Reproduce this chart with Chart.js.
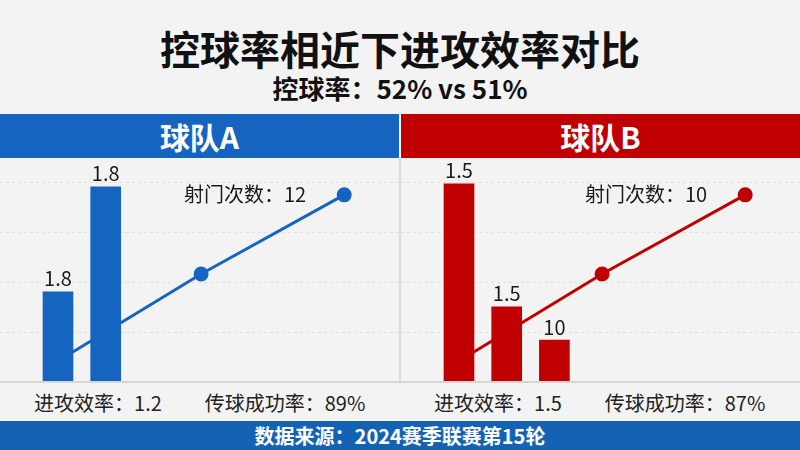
<!DOCTYPE html>
<html>
<head>
<meta charset="utf-8">
<script src="https://cdn.jsdelivr.net/npm/chart.js@4"></script>
<style>
  html, body { margin: 0; padding: 0; }
  body {
    width: 800px; height: 450px; position: relative; overflow: hidden;
    background: #f3f3f3;
    font-family: "Noto Sans CJK SC", "Noto Sans", sans-serif;
    color: #111;
  }
  .title {
    position: absolute; left: 0; width: 800px; top: 27px;
    text-align: center; font-size: 40px; line-height: 42px; font-weight: 700;
  }
  .subtitle {
    position: absolute; left: 0; width: 800px; top: 73px;
    text-align: center; font-size: 26px; line-height: 30px; font-weight: 700;
  }
  .head {
    position: absolute; top: 114px; height: 44px; width: 399px;
    color: #fff; text-align: center; font-size: 30px; line-height: 44px; font-weight: 700;
  }
  .plot { position: absolute; top: 158px; width: 399px; height: 224px; }
  .base { position: absolute; top: 381px; left: 0; width: 800px; height: 2px; background: #d6d6d6; }
  .divider { position: absolute; left: 399px; width: 2px; top: 158px; height: 224px; background: #dadada; }
  .stat {
    position: absolute; top: 390px; font-size: 20px; line-height: 26px;
    transform: translateX(-50%); white-space: nowrap; color: #222;
  }
  .foot {
    position: absolute; left: 0; top: 421px; width: 800px; height: 29px;
    background: #1462b4; color: #fff; text-align: center;
    font-size: 20px; line-height: 29px; font-weight: 700;
  }
</style>
</head>
<body>
<div class="title">控球率相近下进攻效率对比</div>
<div class="subtitle">控球率：52% vs 51%</div>

<div class="head" style="left:0;background:#1565c0">球队A</div>
<div class="head" style="left:401px;background:#c00000">球队B</div>

<div class="plot" style="left:0"><canvas id="chartA"></canvas></div>
<div class="plot" style="left:401px"><canvas id="chartB"></canvas></div>
<div class="base"></div>
<div class="divider"></div>

<div class="stat" style="left:98px">进攻效率：1.2</div>
<div class="stat" style="left:285px">传球成功率：89%</div>
<div class="stat" style="left:498px">进攻效率：1.5</div>
<div class="stat" style="left:685px">传球成功率：87%</div>

<div class="foot">数据来源：2024赛季联赛第15轮</div>

<script>
// 球队A
const barXA = [1, 2];
const barValuesA = [1.81, 3.92];
const barLabelsA = ["1.8", "1.8"];
const lineXA = [1, 4, 7];
const lineValuesA = [0.42, 2.17, 3.76];
const shotLabelA = "射门次数：12";

// 球队B
const barXB = [1, 2, 3];
const barValuesB = [3.98, 1.51, 0.84];
const barLabelsB = ["1.5", "1.5", "10"];
const lineXB = [1, 4, 7];
const lineValuesB = [0.42, 2.17, 3.76];
const shotLabelB = "射门次数：10";

const yTicks = [0, 1, 2, 3, 4];

/** 막대 위 숫자와 선 끝 라벨을 직접 그린다. */
const labelPlugin = {
    id: "labelPlugin",
    afterDatasetsDraw(chart, args, opts) {
        const { ctx } = chart;
        const barMeta = chart.getDatasetMeta(0);
        const lineMeta = chart.getDatasetMeta(1);
        ctx.save();
        ctx.font = '20px "Noto Sans CJK SC", "Noto Sans", sans-serif';
        ctx.fillStyle = "#1a1a1a";
        ctx.textAlign = "center";
        ctx.textBaseline = "bottom";
        barMeta.data.forEach((bar, i) => {
            ctx.fillText(opts.barLabels[i], bar.x, bar.y - 3);
        });
        const last = lineMeta.data[lineMeta.data.length - 1];
        if (last) {
            ctx.textAlign = "right";
            ctx.textBaseline = "middle";
            ctx.fillText(opts.shotLabel, last.x - 38, last.y);
        }
        ctx.restore();
    }
};

function buildPanel(id, color, barX, barValues, barLabels, lineX, lineValues, shotLabel) {
    const canvas = document.getElementById(id);
    return new Chart(canvas.getContext("2d"), {
        type: "bar",
        data: {
            datasets: [
                {
                    type: "bar",
                    data: barX.map((x, i) => ({ x: x, y: barValues[i] })),
                    backgroundColor: color,
                    barThickness: 30,
                    order: 1
                },
                {
                    type: "line",
                    data: lineX.map((x, i) => ({ x: x, y: lineValues[i] })),
                    borderColor: color,
                    backgroundColor: color,
                    borderWidth: 3,
                    pointRadius: 6,
                    pointHoverRadius: 6,
                    tension: 0,
                    fill: false,
                    clip: false,
                    order: 2
                }
            ]
        },
        options: {
            responsive: true,
            maintainAspectRatio: false,
            animation: false,
            layout: { padding: 0, autoPadding: false },
            plugins: {
                legend: { display: false },
                tooltip: { enabled: false },
                labelPlugin: { barLabels: barLabels, shotLabel: shotLabel }
            },
            scales: {
                x: {
                    type: "linear",
                    offset: false,
                    min: -0.216,
                    max: 8.149,
                    display: false
                },
                y: {
                    min: 0,
                    max: 4.5,
                    afterBuildTicks: (axis) => { axis.ticks = yTicks.map((v) => ({ value: v })); },
                    ticks: { display: false },
                    border: { display: false, dash: [3, 3] },
                    grid: {
                        drawTicks: false,
                        lineWidth: 1,
                        borderDash: [3, 3],
                        color: (c) => (c.tick && c.tick.value === 0 ? "rgba(0,0,0,0)" : "#e0e0e0")
                    }
                }
            }
        },
        plugins: [labelPlugin]
    });
}

buildPanel("chartA", "#1565c0", barXA, barValuesA, barLabelsA, lineXA, lineValuesA, shotLabelA);
buildPanel("chartB", "#c00000", barXB, barValuesB, barLabelsB, lineXB, lineValuesB, shotLabelB);
</script>
</body>
</html>
